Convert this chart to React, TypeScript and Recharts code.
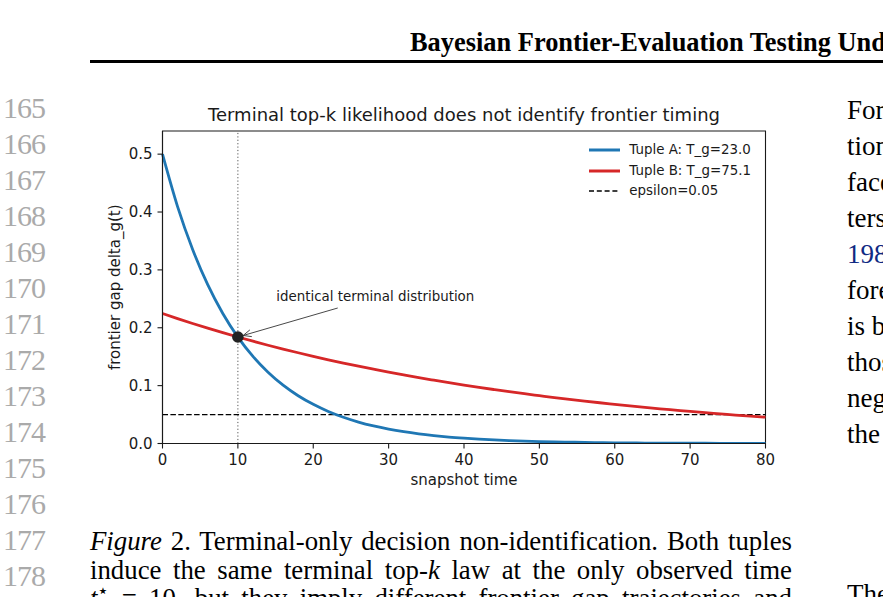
import React from 'react';
import {
  ComposedChart,
  Line,
  XAxis,
  YAxis,
  ReferenceLine,
  ReferenceDot,
  ReferenceArea,
  Legend,
} from 'recharts';

// snapshot times (x) and frontier gap values for the two tuples
const snapshotTimes = [
  0, 2, 4, 6, 8, 10, 12, 14, 16, 18, 20, 22, 24, 26, 28, 30, 32, 34, 36, 38, 40,
  42, 44, 46, 48, 50, 52, 54, 56, 58, 60, 62, 64, 66, 68, 70, 72, 74, 76, 78, 80,
];
const tupleA = [
  0.5, 0.4094, 0.3352, 0.2744, 0.2247, 0.1839, 0.1506, 0.1233, 0.1009, 0.0826, 0.0677,
  0.0554, 0.0454, 0.0371, 0.0304, 0.0249, 0.0204, 0.0167, 0.0137, 0.0112, 0.0092,
  0.0075, 0.0061, 0.005, 0.0041, 0.0034, 0.0028, 0.0023, 0.0018, 0.0015, 0.0012,
  0.001, 0.0008, 0.0007, 0.0006, 0.0005, 0.0004, 0.0003, 0.0002, 0.0002, 0.0002,
];
const tupleB = [
  0.2247, 0.2159, 0.2074, 0.1993, 0.1915, 0.184, 0.1768, 0.1698, 0.1632, 0.1568, 0.1506,
  0.1447, 0.139, 0.1336, 0.1284, 0.1233, 0.1185, 0.1138, 0.1094, 0.1051, 0.101,
  0.097, 0.0932, 0.0895, 0.086, 0.0827, 0.0794, 0.0763, 0.0733, 0.0704, 0.0677,
  0.065, 0.0625, 0.06, 0.0577, 0.0554, 0.0532, 0.0512, 0.0491, 0.0472, 0.0454,
];

const xTicks = [0, 10, 20, 30, 40, 50, 60, 70, 80];
const yTicks = [0, 0.1, 0.2, 0.3, 0.4, 0.5];
const yMax = 0.54;

const epsilon = 0.05;
const observedTime = 10;
const terminalGap = 0.184;

const legendLabels = ['Tuple A: T_g=23.0', 'Tuple B: T_g=75.1', 'epsilon=0.05'];
const annotationText = 'identical terminal distribution';
// annotation text anchor (left edge, middle) and text centre, in data units
const annotationAt = { t: 15.1, v: 0.254 };
const annotationCentre = { t: 28.5, v: 0.254 };

// surrounding page text
const headerText = 'Bayesian Frontier-Evaluation Testing Under Uncertainty';
const lineNumbers = [165, 166, 167, 168, 169, 170, 171, 172, 173, 174, 175, 176, 177, 178];
const rightColumn = ['Formally,', 'tions', 'faces', 'ters', '1989', 'forecast', 'is based', 'those', 'negative', 'the'];

const SERIF = '"Liberation Serif", "Times New Roman", Times, serif';
const SANS = '"DejaVu Sans", Verdana, sans-serif';
const BLUE = '#1f77b4';
const RED = '#d62728';
const INK = '#1a1a1a';

const rows = snapshotTimes.map((t, i) => ({ t, a: tupleA[i], b: tupleB[i] }));

// a line of page text placed by its baseline
const Row = ({ left, baseline, size, style, children }: any) => (
  <div
    style={{
      position: 'absolute',
      left,
      top: baseline - 0.8375 * size,
      fontSize: size,
      lineHeight: `${size}px`,
      fontFamily: SERIF,
      whiteSpace: 'nowrap',
      ...style,
    }}
  >
    {children}
  </div>
);

// matplotlib-style '->' arrow: starts at the text box edge, stops short of the point
const ArrowShape = (props: any) => {
  const { x1, y1, x2, y2 } = props;
  if (x1 == null || x2 == null) return null;
  const dx = x2 - x1;
  const dy = y2 - y1;
  const len = Math.sqrt(dx * dx + dy * dy);
  const ux = dx / len;
  const uy = dy / len;
  const s0 = Math.min(0.9, 11.5 / Math.abs(dy || 1));
  const sx = x1 + dx * s0;
  const sy = y1 + dy * s0;
  const ex = x2 - ux * 5.5;
  const ey = y2 - uy * 5.5;
  const hl = 8;
  const hw = 3.5;
  const bx = ex - ux * hl;
  const by = ey - uy * hl;
  return (
    <g stroke="#333" strokeWidth={0.9} fill="none">
      <line x1={sx} y1={sy} x2={ex} y2={ey} />
      <polyline
        points={`${bx - uy * hw},${by + ux * hw} ${ex},${ey} ${bx + uy * hw},${by - ux * hw}`}
      />
    </g>
  );
};

const renderLegend = () => (
  <div style={{ fontFamily: SANS, fontSize: 13.4, color: INK }}>
    {legendLabels.map((label, i) => (
      <div key={label} style={{ display: 'flex', alignItems: 'center', height: 20.5 }}>
        <svg width={31} height={20} style={{ display: 'block' }}>
          {i < 2 ? (
            <line x1={0} y1={10} x2={31} y2={10} stroke={i === 0 ? BLUE : RED} strokeWidth={3} />
          ) : (
            <line x1={0} y1={10} x2={31} y2={10} stroke="#000" strokeWidth={1.3} strokeDasharray="5 2.8" />
          )}
        </svg>
        <span style={{ marginLeft: 9.3, lineHeight: '20.5px', whiteSpace: 'nowrap' }}>{label}</span>
      </div>
    ))}
  </div>
);

const tickStyle = { fontSize: 15, fill: INK, fontFamily: SANS };

const App: React.FC = () => {
  return (
    <div
      style={{
        position: 'absolute',
        left: 0,
        top: 0,
        width: 883,
        height: 597,
        overflow: 'hidden',
        background: '#fff',
        color: '#000',
        fontFamily: SERIF,
      }}
    >
      {/* running header */}
      <Row left={410} baseline={50.7} size={26.4} style={{ fontWeight: 'bold' }}>
        {headerText}
      </Row>
      <div style={{ position: 'absolute', left: 90, top: 60, width: 793, height: 2.5, background: '#000' }} />

      {/* line numbers */}
      {lineNumbers.map((n, i) => (
        <Row key={n} left={3} baseline={118.3 + 36 * i} size={30} style={{ color: '#aaaaaa', letterSpacing: -1 }}>
          {n}
        </Row>
      ))}

      {/* right column body text, clipped at the page edge */}
      {rightColumn.map((w, i) => (
        <Row key={w} left={847} baseline={119.3 + 36 * i} size={27} style={{ color: i === 4 ? '#102a83' : '#000' }}>
          {w}
        </Row>
      ))}
      <Row left={847} baseline={603.5} size={27}>The</Row>

      {/* chart title */}
      <div
        style={{
          position: 'absolute',
          left: 164,
          width: 600,
          top: 121.7 - 0.846 * 18,
          fontSize: 18,
          lineHeight: '18px',
          fontFamily: SANS,
          textAlign: 'center',
          color: INK,
          whiteSpace: 'nowrap',
        }}
      >
        Terminal top-k likelihood does not identify frontier timing
      </div>

      {/* chart */}
      <div style={{ position: 'absolute', left: 90, top: 95 }}>
        <ComposedChart
          width={700}
          height={400}
          data={rows}
          margin={{ top: 36, right: 24.5, bottom: 8.5, left: 10 }}
        >
          <XAxis
            dataKey="t"
            type="number"
            domain={[0, 80]}
            ticks={xTicks}
            height={43}
            tickSize={5}
            tickMargin={6}
            axisLine={{ stroke: INK, strokeWidth: 1.1 }}
            tickLine={{ stroke: INK, strokeWidth: 1.1 }}
            tick={tickStyle}
            label={{
              value: 'snapshot time',
              position: 'insideBottom',
              offset: 1.5,
              fill: INK,
              fontSize: 15,
              fontFamily: SANS,
            }}
          />
          <YAxis
            type="number"
            domain={[0, yMax]}
            ticks={yTicks}
            width={62.5}
            tickSize={5}
            tickMargin={5}
            tickFormatter={(v: number) => v.toFixed(1)}
            axisLine={{ stroke: INK, strokeWidth: 1.1 }}
            tickLine={{ stroke: INK, strokeWidth: 1.1 }}
            tick={tickStyle}
            allowDataOverflow
            label={{
              value: 'frontier gap delta_g(t)',
              angle: -90,
              position: 'insideLeft',
              offset: 14.5,
              fill: INK,
              fontSize: 15,
              fontFamily: SANS,
              style: { textAnchor: 'middle' },
            }}
          />
          <ReferenceArea x1={0} x2={80} y1={0} y2={yMax} fill="none" fillOpacity={0} stroke={INK} strokeWidth={1.1} />
          <ReferenceLine x={observedTime} stroke="#555" strokeWidth={1} strokeDasharray="1.2 2.2" />
          <ReferenceLine y={epsilon} stroke="#000" strokeWidth={1.3} strokeDasharray="5.5 2.4" />
          <Line
            type="monotone"
            dataKey="a"
            stroke={BLUE}
            strokeWidth={2.8}
            dot={false}
            activeDot={false}
            isAnimationActive={false}
          />
          <Line
            type="monotone"
            dataKey="b"
            stroke={RED}
            strokeWidth={2.8}
            dot={false}
            activeDot={false}
            isAnimationActive={false}
          />
          <ReferenceDot x={observedTime} y={terminalGap} r={5.8} fill="#222" stroke="none" />
          <ReferenceLine
            segment={[
              { x: annotationCentre.t, y: annotationCentre.v },
              { x: observedTime, y: terminalGap },
            ]}
            shape={ArrowShape}
          />
          <ReferenceDot
            x={annotationAt.t}
            y={annotationAt.v}
            r={0}
            fill="none"
            stroke="none"
            label={{
              value: annotationText,
              position: 'right',
              offset: 0,
              fill: INK,
              fontSize: 13.4,
              fontFamily: SANS,
            }}
          />
          <Legend
            layout="vertical"
            align="center"
            verticalAlign="middle"
            content={renderLegend}
            wrapperStyle={{ left: 499, top: 45, width: 190, height: 'auto' }}
          />
        </ComposedChart>
      </div>

      {/* caption */}
      {[
        <>
          <i>Figure</i> 2. Terminal-only decision non-identification. Both tuples
        </>,
        <>
          induce the same terminal top-<i>k</i> law at the only observed time
        </>,
        <>
          <i>t</i>
          <sup style={{ fontSize: '0.7em', lineHeight: 0 }}>⋆</sup> = 10, but they imply different frontier gap trajectories and
        </>,
      ].map((content, i) => (
        <div
          key={i}
          style={{
            position: 'absolute',
            left: 90,
            width: 702,
            top: 550.5 + 28.5 * i - 0.8375 * 26.8,
            fontSize: 26.8,
            lineHeight: '26.8px',
            fontFamily: SERIF,
            textAlign: 'justify',
            textAlignLast: 'justify',
          }}
        >
          {content}
        </div>
      ))}
    </div>
  );
};

export default App;
